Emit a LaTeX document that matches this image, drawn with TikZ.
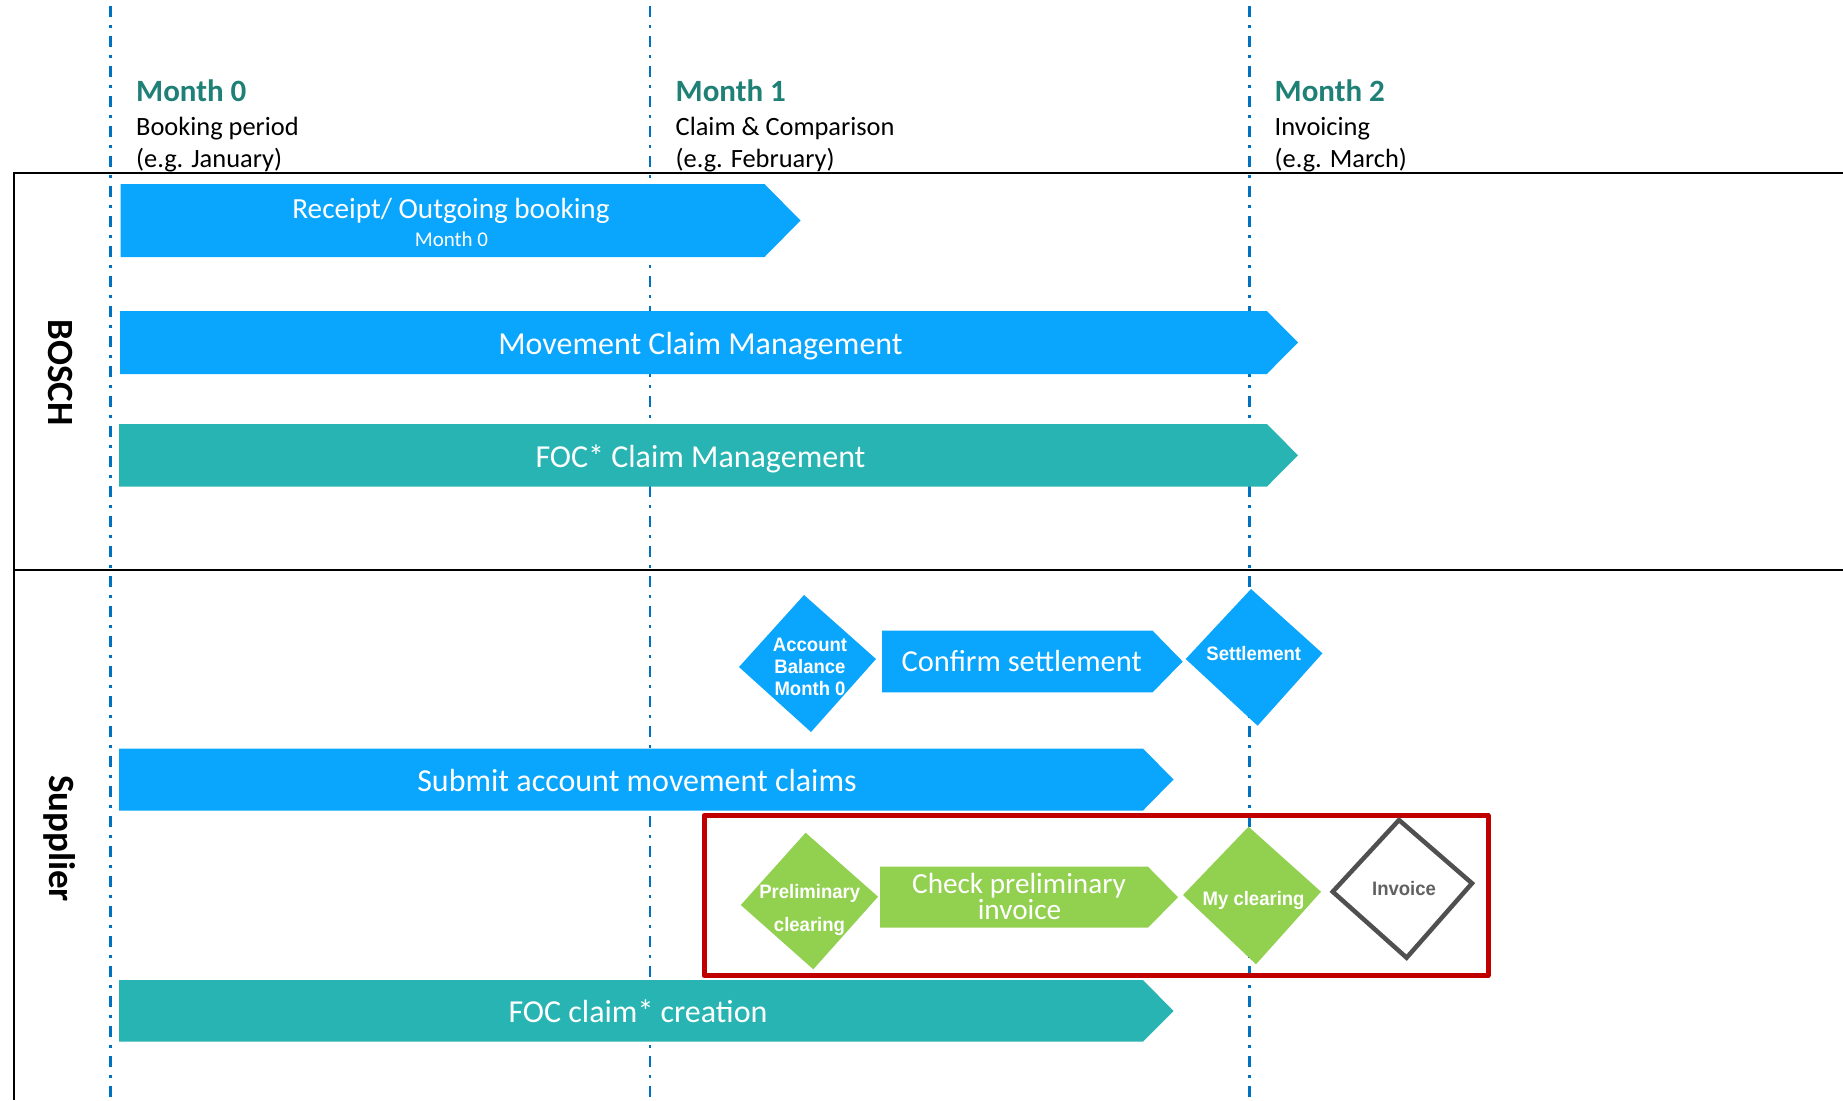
\documentclass[tikz,border=0pt]{standalone}
\usepackage{fontspec}
\setmainfont{Carlito}
\newfontfamily\diafont[FakeStretch=0.95]{Liberation Sans}
\definecolor{barblue}{RGB}{10,165,252}
\definecolor{barteal}{RGB}{41,180,180}
\definecolor{bargreen}{RGB}{146,208,80}
\definecolor{monthteal}{RGB}{31,128,118}
\definecolor{lineblue}{RGB}{0,112,192}
\definecolor{boxred}{RGB}{192,0,0}
\definecolor{invgray}{RGB}{80,80,80}
\begin{document}
\begin{tikzpicture}[x=1pt,y=-1pt,
  monthlbl/.style={anchor=base west, text=monthteal, font=\bfseries\fontsize{31}{31}\selectfont, inner sep=0},
  sublbl/.style={anchor=base west, text=black, font=\fontsize{26.4}{26.4}\selectfont, inner sep=0},
  bartext/.style={anchor=base, text=white, font=\fontsize{32}{32}\selectfont, inner sep=0},
  diatext/.style={anchor=base, text=white, font=\diafont\bfseries\fontsize{19.5}{19.5}\selectfont, inner sep=0},
  lanelbl/.style={anchor=base, rotate=-90, text=black, font=\bfseries\fontsize{37}{37}\selectfont, inner sep=0},
  timeline/.style={draw=lineblue, line width=2.7pt, dash pattern=on 11pt off 8pt on 3pt off 8pt},
  laneline/.style={draw=black, line width=2.7pt},
  bluebar/.style={fill=barblue},
  tealbar/.style={fill=barteal},
  greenbar/.style={fill=bargreen},
  redframe/.style={draw=boxred, line width=5pt, line join=round},
  invframe/.style={draw=invgray, fill=white, line width=4.5pt, line join=miter}
]
\useasboundingbox (0,0) rectangle (1843,1100);
\clip (0,0) rectangle (1843,1100);

% time lines
\coordinate (t0a) at (110.5,-24); \coordinate (t0b) at (110.5,1100);
\coordinate (t1a) at (650,-24);   \coordinate (t1b) at (650,1100);
\coordinate (t2a) at (1249.5,-24);\coordinate (t2b) at (1249.5,1100);
\draw[timeline] (t0a) -- (t0b);
\draw[timeline] (t1a) -- (t1b);
\draw[timeline] (t2a) -- (t2b);

% lane lines
\coordinate (lt0) at (13,173);  \coordinate (lt1) at (1843,173);
\coordinate (lm0) at (14,570);  \coordinate (lm1) at (1843,570);
\coordinate (lv0) at (14,172);  \coordinate (lv1) at (14,1100);
\draw[laneline] (lt0) -- (lt1);
\draw[laneline] (lm0) -- (lm1);
\draw[laneline] (lv0) -- (lv1);

% headers
\node[monthlbl] (m0) at (136,101) {Month 0};
\node[sublbl] (m0a) at (136,135) {Booking period};
\node[sublbl] (m0b) at (136,167) {(e.g. January)};
\node[monthlbl] (m1) at (675.5,101) {Month 1};
\node[sublbl] (m1a) at (675.5,135) {Claim \& Comparison};
\node[sublbl] (m1b) at (675.5,167) {(e.g. February)};
\node[monthlbl] (m2) at (1274.5,101) {Month 2};
\node[sublbl] (m2a) at (1274.5,135) {Invoicing};
\node[sublbl] (m2b) at (1274.5,167) {(e.g. March)};

% lane labels
\node[lanelbl] (bosch) at (48.5,372.5) {BOSCH};
\node[lanelbl] (supplier) at (49,838.5) {Supplier};

% BOSCH bars
\fill[bluebar] (120.5,184) -- (764.5,184) -- (800.5,220.5) -- (764.5,257) -- (120.5,257) -- cycle;
\node[bartext, font=\fontsize{29.2}{29.2}\selectfont] (receipt) at (451,218) {Receipt/ Outgoing booking};
\node[bartext, font=\fontsize{21}{21}\selectfont] (receiptm) at (451.5,246.5) {Month 0};

\fill[bluebar] (120,311) -- (1266.8,311) -- (1298,342.5) -- (1266.8,374) -- (120,374) -- cycle;
\node[bartext] (movement) at (700.5,354) {Movement Claim Management};

\fill[tealbar] (119,424) -- (1266.8,424) -- (1298,455.3) -- (1266.8,486.7) -- (119,486.7) -- cycle;
\node[bartext] (foc) at (700.5,467) {FOC* Claim Management};

% Supplier row 1
\fill[bluebar] (804,595) -- (876,659) -- (811,732) -- (739,667) -- cycle;
\node[diatext] (acc1) at (810,651) {Account};
\node[diatext] (acc2) at (810,673.3) {Balance};
\node[diatext] (acc3) at (810,695.6) {Month 0};

\fill[bluebar] (882,630.7) -- (1152.6,630.7) -- (1182.7,661.5) -- (1152.6,692.3) -- (882,692.3) -- cycle;
\node[bartext, font=\fontsize{30.5}{30.5}\selectfont] (confirm) at (1021.7,671.5) {Confirm settlement};

\fill[bluebar] (1251,589) -- (1322.4,653.3) -- (1257.6,725.7) -- (1185.7,659) -- cycle;
\node[diatext] (settle) at (1253.8,660) {Settlement};

% Submit bar
\fill[bluebar] (119,748.5) -- (1143,748.5) -- (1173.5,779.5) -- (1143,810.5) -- (119,810.5) -- cycle;
\node[bartext] (submit) at (637,791) {Submit account movement claims};

% red frame group
\draw[redframe] (704,815.5) rectangle (1488,975.5);

\fill[greenbar] (805.6,832.7) -- (878,896.7) -- (813.3,969.3) -- (740.8,905) -- cycle;
\node[diatext] (prel1) at (809.7,898) {Preliminary};
\node[diatext] (prel2) at (809.5,931.5) {clearing};

\fill[greenbar] (880,866.7) -- (1148,866.7) -- (1178,897.2) -- (1148,927.7) -- (880,927.7) -- cycle;
\node[bartext, font=\fontsize{29.2}{29.2}\selectfont] (check1) at (1019,893) {Check preliminary};
\node[bartext, font=\fontsize{29.2}{29.2}\selectfont] (check2) at (1019.5,919.5) {invoice};

\fill[greenbar] (1248.5,826.7) -- (1321,891.7) -- (1256,964.3) -- (1183,895) -- cycle;
\node[diatext] (myclear) at (1253.6,905) {My clearing};

\draw[invframe] (1399,820) -- (1472,883.3) -- (1406.6,957.7) -- (1332.7,891.7) -- cycle;
\node[diatext, text=invgray!90!white] (invoice) at (1404,895) {Invoice};

% FOC claim creation
\fill[tealbar] (119,980) -- (1143,980) -- (1173.5,1011) -- (1143,1041.7) -- (119,1041.7) -- cycle;
\node[bartext] (foccreate) at (638,1022.7) {FOC claim* creation};
\end{tikzpicture}
\end{document}
